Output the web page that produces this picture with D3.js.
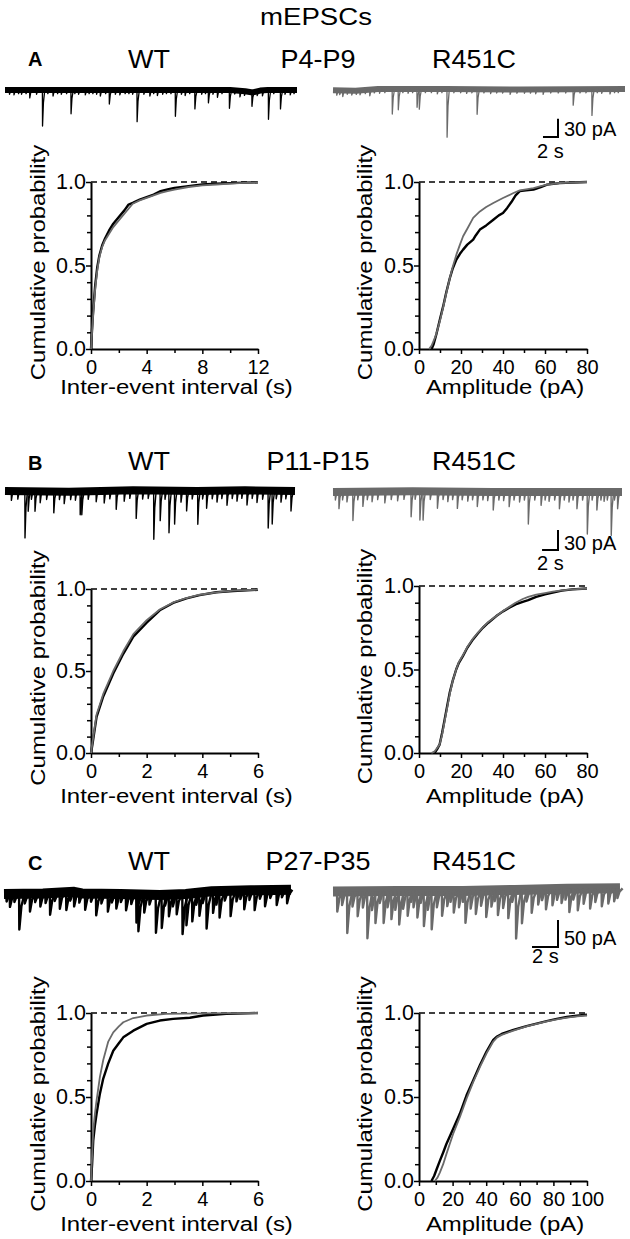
<!DOCTYPE html>
<html><head><meta charset="utf-8">
<script src="https://cdn.jsdelivr.net/npm/d3@7"></script>
<style>
body{margin:0;background:#fff;}
svg text{font-family:"Liberation Sans",Arial,Helvetica,sans-serif;}
</style></head><body>
<script>
// ================= DATA =================
const titleText = "mEPSCs";
const panelLetters = ["A", "B", "C"];
const ageLabels = ["P4-P9", "P11-P15", "P27-P35"];
const genotypes = ["WT", "R451C"];
const yAxisTitle = "Cumulative probability";
const xTitleInterval = "Inter-event interval (s)";
const xTitleAmplitude = "Amplitude (pA)";
const yTicks = [0, 0.5, 1];
const yTickLabels = ["0.0", "0.5", "1.0"];
const yMinorTicks = [0.1, 0.2, 0.3, 0.4, 0.6, 0.7, 0.8, 0.9];
const intervalTicksA = [0, 4, 8, 12];
const intervalMinorA = [2, 6, 10];
const intervalTicksBC = [0, 2, 4, 6];
const intervalMinorBC = [1, 3, 5];
const ampTicksAB = [0, 20, 40, 60, 80];
const ampMinorAB = [10, 30, 50, 70];
const ampTicksC = [0, 20, 40, 60, 80, 100];
const ampMinorC = [10, 30, 50, 70, 90];
const scaleBarAmp = [30, 30, 50];     // pA
const scaleBarTime = [2, 2, 2];       // s

// Cumulative distributions [value, probability]
const cdfA_int_WT = [[0,0],[0.05,0.08],[0.15,0.22],[0.3,0.38],[0.45,0.49],[0.6,0.56],[0.8,0.62],[1.0,0.66],[1.3,0.71],[1.6,0.75],[2.0,0.79],[2.4,0.83],[2.7,0.865],[3.0,0.875],[3.5,0.895],[4.0,0.91],[4.5,0.925],[5.0,0.945],[5.5,0.955],[6.0,0.965],[7.0,0.975],[8.0,0.985],[9.0,0.99],[10,0.993],[11,0.996],[12,0.998]];
const cdfA_int_R = [[0,0],[0.05,0.07],[0.15,0.2],[0.3,0.36],[0.45,0.47],[0.6,0.55],[0.8,0.61],[1.0,0.65],[1.3,0.69],[1.6,0.73],[2.0,0.77],[2.4,0.81],[2.7,0.84],[3.0,0.87],[3.5,0.89],[4.0,0.905],[4.5,0.92],[5.0,0.935],[5.5,0.945],[6.0,0.955],[7.0,0.97],[8.0,0.98],[9.0,0.985],[10,0.99],[11,0.995],[12,0.998]];
const cdfA_amp_WT = [[6,0],[7,0.03],[8.3,0.09],[10,0.18],[11.5,0.255],[13,0.34],[14.7,0.425],[16,0.48],[17.8,0.535],[19.5,0.57],[21,0.595],[23,0.625],[25.8,0.655],[27,0.68],[29,0.715],[32,0.74],[35.4,0.774],[38,0.8],[40,0.814],[42,0.845],[44,0.88],[46,0.92],[48,0.945],[51,0.95],[54.5,0.955],[58,0.97],[61,0.984],[67,0.993],[73,0.997],[80,1.0]];
const cdfA_amp_R = [[4.8,0],[6,0.02],[8,0.08],[10,0.17],[11.5,0.25],[13,0.335],[14.7,0.425],[16,0.49],[17.8,0.565],[19.5,0.625],[21,0.675],[23,0.72],[25.8,0.785],[29,0.824],[32,0.85],[35.4,0.874],[40,0.904],[45,0.934],[48,0.95],[51,0.956],[54.5,0.964],[58,0.975],[61,0.984],[67,0.994],[73,0.997],[80,1.0]];
const cdfB_int_WT = [[0,0],[0.05,0.05],[0.2,0.22],[0.44,0.345],[0.8,0.485],[1.16,0.605],[1.52,0.71],[2.0,0.795],[2.47,0.87],[2.95,0.915],[3.43,0.943],[3.9,0.963],[4.5,0.98],[5.1,0.988],[6,0.995]];
const cdfB_int_R = [[0,0],[0.05,0.06],[0.2,0.235],[0.44,0.36],[0.8,0.5],[1.16,0.62],[1.52,0.725],[2.0,0.81],[2.47,0.875],[2.95,0.918],[3.43,0.945],[3.9,0.965],[4.5,0.98],[5.1,0.99],[6,0.996]];
const cdfB_amp_WT = [[7.4,0],[8.5,0.02],[9.8,0.05],[11,0.12],[12.2,0.2],[13.4,0.28],[14.6,0.36],[16,0.43],[17.7,0.5],[19,0.54],[20.9,0.58],[23,0.63],[25.7,0.68],[28,0.715],[30.4,0.75],[33,0.78],[36.8,0.82],[40,0.848],[43,0.87],[46,0.89],[49.4,0.905],[52,0.915],[55.8,0.935],[60,0.95],[63.7,0.96],[68,0.972],[73,0.98],[80,0.985]];
const cdfB_amp_R = [[5.9,0],[7.5,0.01],[9.8,0.05],[11,0.11],[12.2,0.19],[13.4,0.27],[14.6,0.35],[16,0.43],[17.7,0.5],[19,0.545],[20.9,0.585],[23,0.635],[25.7,0.685],[28,0.72],[30.4,0.752],[33,0.785],[36.8,0.82],[40,0.85],[43,0.875],[46,0.9],[49.4,0.922],[52,0.935],[55.8,0.948],[60,0.958],[63.7,0.966],[68,0.974],[73,0.98],[80,0.985]];
const cdfC_int_WT = [[0,0],[0.04,0.1],[0.08,0.24],[0.14,0.33],[0.2,0.4],[0.32,0.52],[0.44,0.61],[0.62,0.7],[0.8,0.775],[1.0,0.82],[1.16,0.855],[1.52,0.895],[2.0,0.935],[2.47,0.955],[2.95,0.965],[3.55,0.972],[4.03,0.985],[4.86,0.995],[6,1.0]];
const cdfC_int_R = [[0,0],[0.04,0.15],[0.08,0.3],[0.14,0.4],[0.2,0.48],[0.32,0.62],[0.44,0.72],[0.62,0.83],[0.8,0.885],[1.0,0.92],[1.16,0.945],[1.52,0.97],[2.0,0.985],[2.7,0.995],[4,0.998],[6,1.0]];
const cdfC_amp_WT = [[7.4,0],[9,0.03],[10.5,0.07],[12.4,0.12],[14.4,0.17],[16.3,0.22],[18.3,0.265],[20.3,0.31],[24.3,0.4],[28.3,0.51],[32.3,0.6],[36.3,0.69],[40.2,0.77],[44.2,0.84],[46.5,0.86],[49.2,0.875],[56.2,0.9],[64,0.922],[70,0.937],[76,0.952],[82,0.965],[88,0.976],[94,0.984],[100,0.99]];
const cdfC_amp_R = [[9.4,0],[11,0.02],[12.4,0.05],[14.4,0.1],[16.3,0.16],[18.3,0.22],[20.3,0.28],[24.3,0.38],[28.3,0.49],[32.3,0.59],[36.3,0.68],[40.2,0.76],[44.2,0.83],[46.5,0.855],[49.2,0.87],[56.2,0.895],[64,0.92],[70,0.935],[76,0.95],[82,0.962],[88,0.972],[94,0.98],[100,0.985]];

// Example traces: events [time s, amplitude pA], baseline drift [time s, offset pA]
const traceDur = [38.9, 36.25, 22.1];
const traceA_WT_events = [[0.6,7],[1.2,8],[1.8,6],[2.2,7],[2.8,6],[3.3,13],[4.2,7],[5.0,59],[5.7,6],[6.4,10],[7.0,6],[7.5,7],[8.2,6],[8.8,39],[9.3,6],[9.8,7],[10.7,8],[11.2,6],[11.7,6],[12.2,7],[12.7,10],[13.4,6],[13.9,23],[14.7,7],[15.3,8],[16.0,6],[16.5,6],[17.0,7],[17.6,52],[18.5,7],[19.3,10],[19.8,6],[20.3,9],[21.0,7],[21.5,6],[22.1,6],[22.7,43],[23.5,7],[24.0,9],[24.6,6],[25.3,31],[26.2,7],[26.7,6],[27.1,21],[27.7,7],[28.3,12],[28.9,6],[29.9,30],[30.6,6],[31.3,10],[31.9,7],[32.9,23],[33.6,7],[34.3,9],[35.1,48],[35.8,6],[36.7,31],[37.3,7],[38.0,8],[38.5,6]];
const traceA_WT_base = [[0,0],[10,0],[20,0],[30,0],[32,2],[33,4],[34,1],[35,0],[38.9,0]];
const traceA_R_events = [[0.5,8],[0.9,7],[1.3,10],[1.9,6],[2.5,7],[3.1,6],[3.6,7],[4.3,6],[4.9,10],[5.5,6],[6.2,7],[6.9,6],[7.9,41],[8.7,34],[9.3,6],[10,7],[10.6,6],[11.2,30],[11.5,33],[12.3,6],[13.1,6],[13.9,8],[14.5,6],[15.2,79],[16.1,6],[17,6],[17.8,7],[18.5,6],[19.2,41],[20.1,6],[21,7],[21.8,6],[22.6,6],[23.6,8],[24.5,6],[25.5,6],[26.3,6],[27,7],[28,8],[29,6],[30,6],[31,6],[32,26],[32.9,6],[33.7,6],[34.5,43],[35.2,6],[35.8,7],[36.9,8],[37.5,6],[38,6]];
const traceA_R_base = [[0,2],[3,3],[6,0],[15,0],[25,1],[38.9,0]];
const traceB_WT_events = [[0.8,14],[1.6,12],[2.5,70],[2.9,30],[3.3,12],[3.75,30],[4.4,17],[5.2,12],[6.1,32],[6.8,12],[7.4,18],[8.2,12],[8.8,13],[9.4,35],[9.6,35],[10.4,12],[11.4,16],[12.4,18],[13.1,12],[13.9,28],[14.9,16],[15.6,12],[16.4,42],[17.2,13],[17.9,12],[18.6,73],[19.4,45],[20.0,13],[20.5,63],[21.2,50],[22.0,17],[22.7,30],[23.4,12],[24.1,50],[24.7,12],[25.2,26],[25.9,12],[26.5,17],[27.1,12],[27.75,22],[28.4,12],[29.0,16],[29.6,12],[30.25,22],[30.9,12],[31.5,18],[32.2,13],[32.9,56],[33.4,50],[33.9,12],[34.5,17],[35.1,12],[35.75,30]];
const traceB_WT_base = [[0,0],[8,1],[16,-1],[24,0],[30,-1],[36.25,0]];
const traceB_R_events = [[0.3,12],[0.75,25],[1.2,12],[1.75,15],[2.5,43],[3.1,12],[3.75,22],[4.3,12],[4.9,15],[5.6,12],[6.5,17],[7.3,12],[8.1,14],[8.9,12],[9.8,38],[10.3,12],[10.9,43],[11.3,43],[12.2,12],[13.1,25],[13.8,12],[14.4,15],[15.0,12],[15.6,25],[16.2,12],[16.9,14],[17.5,12],[18.1,22],[18.8,12],[19.4,13],[20.1,27],[20.8,12],[21.4,13],[22.1,22],[22.7,12],[23.4,15],[24.0,12],[24.5,48],[25.3,12],[26.1,20],[26.6,12],[27.1,14],[27.8,12],[28.4,25],[29.0,12],[29.6,15],[30.1,12],[30.6,25],[31.3,12],[31.9,63],[32.5,12],[33.1,27],[33.6,12],[34.0,14],[34.4,12],[34.9,65],[35.3,12],[35.7,25]];
const traceB_R_base = [[0,0],[10,-1],[20,0],[36.25,0]];
const traceC_WT_events = [[0.2,14],[0.46,24],[0.8,15],[1.18,66],[1.6,18],[2.0,33],[2.4,16],[2.8,24],[3.2,18],[3.55,40],[3.9,15],[4.3,30],[4.8,33],[5.1,16],[5.4,27],[5.8,18],[6.25,30],[6.7,15],[7.1,40],[7.5,18],[8.0,33],[8.3,16],[8.65,27],[9.0,15],[9.4,30],[9.8,18],[10.2,52],[10.35,68],[10.8,33],[11.2,18],[11.7,70],[12.15,61],[12.4,20],[12.7,40],[13.0,22],[13.3,37],[13.75,74],[14.05,58],[14.5,52],[14.8,22],[15.05,43],[15.3,20],[15.6,68],[16.1,40],[16.35,25],[16.6,49],[17.0,18],[17.45,47],[17.9,20],[18.2,16],[18.5,35],[18.9,18],[19.3,37],[19.7,16],[20.1,30],[20.5,15],[21.0,28],[21.4,14],[21.8,25]];
const traceC_WT_base = [[0,0],[3,-1],[5.4,-4],[6,-1],[9,0],[12,2],[14,0],[16,-5],[19,-7],[22.1,-8]];
const traceC_R_events = [[0.33,37],[0.7,25],[1.1,77],[1.5,28],[1.9,46],[2.3,30],[2.65,87],[3.0,35],[3.27,59],[3.6,22],[3.9,59],[4.2,30],[4.5,52],[4.8,35],[5.1,62],[5.4,33],[5.75,46],[6.0,20],[6.2,30],[6.5,49],[6.75,22],[7.0,65],[7.3,35],[7.6,71],[8.0,30],[8.4,46],[8.8,28],[9.05,20],[9.3,40],[9.7,30],[10.0,20],[10.2,59],[10.6,33],[11.0,43],[11.4,28],[11.8,49],[12.2,30],[12.45,20],[12.7,46],[13.1,33],[13.5,52],[13.8,22],[14.1,90],[14.55,62],[14.9,22],[15.3,43],[15.8,28],[16.1,20],[16.4,37],[16.9,30],[17.25,20],[17.6,26],[17.9,20],[18.2,43],[18.5,20],[18.85,40],[19.3,28],[19.8,37],[20.2,25],[20.7,33],[21.2,28],[21.65,24],[21.9,18]];
const traceC_R_base = [[0,1],[5,0],[10,0],[14,-2],[18,-4],[22.1,-5]];

// ================= LAYOUT =================
const W = 630, H = 1239;
const WT_COLOR = "#000", R_COLOR = "#6a6a6a";
const svg = d3.select("body").append("svg").attr("width", W).attr("height", H);

function txt(x, y, s, o) {
  return svg.append("text")
    .attr("transform", `translate(${x},${y})` + (o.rot ? ` rotate(${o.rot})` : "") + ` scale(${o.sx || 1},1)`)
    .attr("text-anchor", o.anchor || "start")
    .attr("font-size", o.size)
    .attr("font-weight", o.weight || "normal")
    .attr("fill", o.fill || "#000")
    .text(s);
}

txt(316, 25, titleText, {size: 23, sx: 1.2, anchor: "middle"});

const rows = [
  {letterY: 66, labelY: 68, wtX: [5, 297], rX: [333, 625], wtBase: 90, rBase: 89, pxPerPA: 0.61,
   band: 6, spikeW: 1.3, decay: 0.12, barX: 558, barY: 137, ampTextY: 136, timeTextX: 537, timeTextY: 158,
   wt: [traceA_WT_events, traceA_WT_base], r: [traceA_R_events, traceA_R_base],
   plotY: [[182, 349], [182, 349]], xTitleY: 394},
  {letterY: 470, labelY: 470, wtX: [5, 295], rX: [333, 622], wtBase: 491, rBase: 492, pxPerPA: 0.667,
   band: 8, spikeW: 1.4, decay: 0.12, barX: 558, barY: 550, ampTextY: 550, timeTextX: 537, timeTextY: 570,
   wt: [traceB_WT_events, traceB_WT_base], r: [traceB_R_events, traceB_R_base],
   plotY: [[589, 753], [586, 753]], xTitleY: 803},
  {letterY: 870, labelY: 870, wtX: [4, 291], rX: [333, 620], wtBase: 894, rBase: 891, pxPerPA: 0.54,
   band: 10, spikeW: 2.4, decay: 0.16, barX: 558, barY: 947, ampTextY: 945, timeTextX: 532, timeTextY: 963,
   wt: [traceC_WT_events, traceC_WT_base], r: [traceC_R_events, traceC_R_base],
   plotY: [[1013, 1181], [1013, 1181]], xTitleY: 1231}
];

const plotDefs = [
  [{xDom: [0, 12], ticks: intervalTicksA, minor: intervalMinorA, wt: cdfA_int_WT, r: cdfA_int_R, title: xTitleInterval},
   {xDom: [0, 80], ticks: ampTicksAB, minor: ampMinorAB, wt: cdfA_amp_WT, r: cdfA_amp_R, title: xTitleAmplitude}],
  [{xDom: [0, 6], ticks: intervalTicksBC, minor: intervalMinorBC, wt: cdfB_int_WT, r: cdfB_int_R, title: xTitleInterval},
   {xDom: [0, 80], ticks: ampTicksAB, minor: ampMinorAB, wt: cdfB_amp_WT, r: cdfB_amp_R, title: xTitleAmplitude}],
  [{xDom: [0, 6], ticks: intervalTicksBC, minor: intervalMinorBC, wt: cdfC_int_WT, r: cdfC_int_R, title: xTitleInterval},
   {xDom: [0, 100], ticks: ampTicksC, minor: ampMinorC, wt: cdfC_amp_WT, r: cdfC_amp_R, title: xTitleAmplitude}]
];
const colX = [[91, 258], [419, 587]];
const yTitleX = [45, 372];

function drawTrace(row, ri, which) {
  const [events, base] = row[which];
  const xr = which === "wt" ? row.wtX : row.rX;
  const y0 = which === "wt" ? row.wtBase : row.rBase;
  const color = which === "wt" ? WT_COLOR : R_COLOR;
  const x = d3.scaleLinear().domain([0, traceDur[ri]]).range(xr);
  const y = d3.scaleLinear().domain([0, 100]).range([y0, y0 + 100 * row.pxPerPA]);
  const drift = d3.scaleLinear().domain(base.map(d => d[0])).range(base.map(d => d[1]));
  const g = svg.append("g");
  g.append("path")
    .attr("d", d3.line().x(d => x(d[0])).y(d => y(d[1]))(base))
    .attr("fill", "none").attr("stroke", color).attr("stroke-width", row.band)
    .attr("stroke-linejoin", "round");
  const line = d3.line().x(d => x(d[0])).y(d => y(d[1]));
  events.forEach(([t, a]) => {
    const b = drift(t);
    const pts = [[t - 0.02, b], [t, b + a], [t + row.decay, b + a * 0.35], [t + row.decay * 2.5, b]];
    g.append("path").attr("d", line(pts)).attr("fill", "none")
      .attr("stroke", color).attr("stroke-width", row.spikeW).attr("stroke-linejoin", "round");
  });
}

function drawPlot(def, ci, yr, xTitleY) {
  const [x0, x1] = colX[ci];
  const x = d3.scaleLinear().domain(def.xDom).range([x0, x1]);
  const y = d3.scaleLinear().domain([0, 1]).range([yr[1], yr[0]]);
  const g = svg.append("g");
  const mx = g.append("g").attr("transform", `translate(0,${yr[1]})`)
    .call(d3.axisBottom(x).tickValues(def.minor).tickFormat("").tickSize(4).tickSizeOuter(0));
  mx.select(".domain").remove();
  const my = g.append("g").attr("transform", `translate(${x0},0)`)
    .call(d3.axisLeft(y).tickValues(yMinorTicks).tickFormat("").tickSize(4).tickSizeOuter(0));
  my.select(".domain").remove();
  const ax = g.append("g").attr("transform", `translate(0,${yr[1]})`)
    .call(d3.axisBottom(x).tickValues(def.ticks).tickFormat(d => String(d)).tickSize(5).tickPadding(5.5).tickSizeOuter(0));
  const ay = g.append("g").attr("transform", `translate(${x0},0)`)
    .call(d3.axisLeft(y).tickValues(yTicks).tickFormat((d, i) => yTickLabels[i]).tickSize(5).tickPadding(0).tickSizeOuter(0));
  [ax, ay, mx, my].forEach(a => {
    a.attr("font-family", null).attr("font-size", null);
    a.selectAll(".domain").attr("stroke", "#000").attr("stroke-width", 2);
    a.selectAll(".tick line").attr("stroke", "#000").attr("stroke-width", 1.5);
  });
  ax.selectAll("text").attr("font-size", 20).attr("fill", "#000");
  ay.selectAll("text").attr("font-size", 21.5).attr("fill", "#000");
  g.append("line").attr("x1", x0).attr("x2", x1).attr("y1", y(1)).attr("y2", y(1))
    .attr("stroke", "#000").attr("stroke-width", 1.6).attr("stroke-dasharray", "6,4");
  const line = d3.line().x(d => x(d[0])).y(d => y(d[1]));
  g.append("path").attr("d", line(def.wt)).attr("fill", "none").attr("stroke", WT_COLOR)
    .attr("stroke-width", 2.4).attr("stroke-linejoin", "round");
  g.append("path").attr("d", line(def.r)).attr("fill", "none").attr("stroke", R_COLOR)
    .attr("stroke-width", 1.8).attr("stroke-linejoin", "round");
  txt((x0 + x1) / 2 + 2, xTitleY, def.title, {size: 21, sx: 1.14, anchor: "middle"});
  txt(yTitleX[ci], (yr[0] + yr[1]) / 2 - 3, yAxisTitle, {size: 21, sx: 1.14, anchor: "middle", rot: -90});
}

rows.forEach((row, ri) => {
  txt(28, row.letterY, panelLetters[ri], {size: 20, weight: "bold"});
  txt(149, row.labelY, genotypes[0], {size: 25, sx: 1.08, anchor: "middle"});
  txt(318, row.labelY, ageLabels[ri], {size: 25, sx: 1.08, anchor: "middle"});
  txt(474, row.labelY, genotypes[1], {size: 25, sx: 1.08, anchor: "middle"});
  drawTrace(row, ri, "wt");
  drawTrace(row, ri, "r");
  const ppS = (row.rX[1] - row.rX[0]) / traceDur[ri];
  const vLen = scaleBarAmp[ri] * row.pxPerPA;
  const hLen = scaleBarTime[ri] * ppS;
  svg.append("path")
    .attr("d", `M${row.barX},${row.barY - vLen}L${row.barX},${row.barY}L${row.barX - hLen},${row.barY}`)
    .attr("fill", "none").attr("stroke", "#000").attr("stroke-width", 2);
  txt(row.barX + 6, row.ampTextY, scaleBarAmp[ri] + " pA", {size: 20});
  txt(row.timeTextX, row.timeTextY, scaleBarTime[ri] + " s", {size: 20});
  plotDefs[ri].forEach((def, ci) => drawPlot(def, ci, row.plotY[ci], row.xTitleY));
});
</script>
</body></html>
